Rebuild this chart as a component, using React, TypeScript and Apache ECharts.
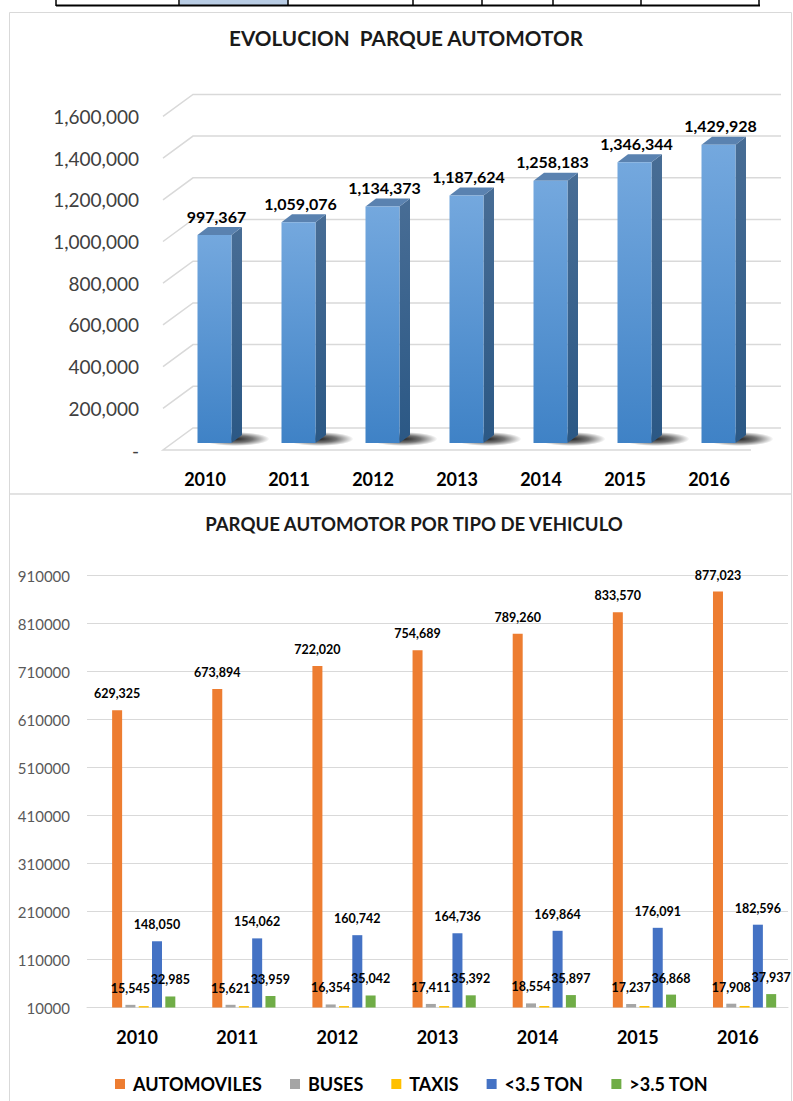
import React, { useEffect, useRef } from "react";
import * as echarts from "echarts";

const years = ["2010", "2011", "2012", "2013", "2014", "2015", "2016"];
const totalParque = [997367, 1059076, 1134373, 1187624, 1258183, 1346344, 1429928];
const topTicks = [0, 200000, 400000, 600000, 800000, 1000000, 1200000, 1400000, 1600000];

const automoviles = [629325, 673894, 722020, 754689, 789260, 833570, 877023];
const buses = [15545, 15621, 16354, 17411, 18554, 17237, 17908];
const taxis = [12900, 12900, 13000, 13000, 13100, 13100, 13200];
const menos35 = [148050, 154062, 160742, 164736, 169864, 176091, 182596];
const mas35 = [32985, 33959, 35042, 35392, 35897, 36868, 37937];
const seriesNames = ["AUTOMOVILES", "BUSES", "TAXIS", "<3.5 TON", ">3.5 TON"];
const seriesColors = ["#ED7D31", "#A5A5A5", "#FFC000", "#4472C4", "#70AD47"];
const seriesData = [automoviles, buses, taxis, menos35, mas35];
const showLabels = [true, true, false, true, true];

const fmt = (v: number) => Number(v).toLocaleString("en-US");

// 3D depth of the top chart's walls and bars
const WALL_DX = 30;
const WALL_DY = -22;
const BAR_OFF_X = 9.5;
const BAR_OFF_Y = -7;
const BAR_DX = 10.5;
const BAR_DY = -8;
const BAR_HALF = 17;

export default function App() {
  const ref = useRef<HTMLDivElement>(null);

  useEffect(() => {
    if (!ref.current) return;
    const chart = echarts.init(ref.current, null, { renderer: "svg" });

    const frontGrad = new echarts.graphic.LinearGradient(0, 0, 0, 1, [
      { offset: 0, color: "#74a8de" },
      { offset: 1, color: "#3f82c6" },
    ]);
    const sideGrad = new echarts.graphic.LinearGradient(0, 0, 0, 1, [
      { offset: 0, color: "#486d95" },
      { offset: 1, color: "#2b5885" },
    ]);
    const shadowGrad = new echarts.graphic.RadialGradient(0.5, 0.5, 0.5, [
      { offset: 0, color: "rgba(0,0,0,0.85)" },
      { offset: 0.5, color: "rgba(0,0,0,0.55)" },
      { offset: 1, color: "rgba(0,0,0,0)" },
    ]);

    const bottomSeries: any[] = [
      {
        type: "bar",
        name: "_",
        xAxisIndex: 1,
        yAxisIndex: 1,
        data: [],
        barWidth: 10,
        barGap: "33%",
      },
    ];
    seriesNames.forEach((name, k) => {
      bottomSeries.push({
        type: "bar",
        name,
        xAxisIndex: 1,
        yAxisIndex: 1,
        data: seriesData[k],
        barWidth: 10,
        barGap: "33%",
        itemStyle: { color: seriesColors[k] },
        label: {
          show: showLabels[k],
          position: "top",
          distance: 10,
          fontFamily: "Lato",
          fontWeight: "bold",
          fontSize: 12.5,
          color: "#000",
          formatter: (p: any) => fmt(p.value),
        },
      });
    });

    const option: any = {
      animation: false,
      backgroundColor: "#fff",
      graphic: [
        // fragment of table above
        { type: "rect", shape: { x: 180, y: 0, width: 108, height: 5 }, style: { fill: "#b8cce4" } },
        { type: "line", shape: { x1: 56, y1: 5.5, x2: 760, y2: 5.5 }, style: { stroke: "#000", lineWidth: 2 } },
        ...[56, 179, 288, 413, 482, 553, 641, 759].map((x) => ({
          type: "line",
          shape: { x1: x, y1: 0, x2: x, y2: 6 },
          style: { stroke: "#000", lineWidth: 1.5 },
        })),
        // frames
        { type: "rect", shape: { x: 9.5, y: 12.5, width: 782, height: 481.5 }, style: { fill: "none", stroke: "#d9d9d9", lineWidth: 1 } },
        { type: "rect", shape: { x: 9.5, y: 494, width: 782, height: 620 }, style: { fill: "none", stroke: "#d9d9d9", lineWidth: 1 } },
        {
          type: "text",
          x: 406,
          y: 38,
          style: {
            text: "EVOLUCION  PARQUE AUTOMOTOR",
            align: "center",
            verticalAlign: "middle",
            fontFamily: "Lato",
            fontWeight: "bold",
            fontSize: 20.7,
            fill: "#1a1a1a",
          },
        },
        {
          type: "text",
          x: 414,
          y: 524,
          style: {
            text: "PARQUE AUTOMOTOR POR TIPO DE VEHICULO",
            align: "center",
            verticalAlign: "middle",
            fontFamily: "Lato",
            fontWeight: "bold",
            fontSize: 18.6,
            fill: "#1a1a1a",
          },
        },
      ],
      legend: {
        data: seriesNames,
        left: 110,
        top: 1070,
        icon: "rect",
        itemWidth: 10,
        itemHeight: 10,
        itemGap: 28,
        textStyle: { fontFamily: "Lato", fontWeight: "bold", fontSize: 18, color: "#000", padding: [0, 0, 0, 3] },
      },
      grid: [
        { left: 163, top: 116.4, width: 588, height: 333.6 },
        { left: 87, top: 575.7, width: 701, height: 431.8 },
      ],
      xAxis: [
        {
          gridIndex: 0,
          type: "category",
          data: years,
          axisLine: { show: false },
          axisTick: { show: false },
          axisLabel: { margin: 20, fontFamily: "Lato", fontWeight: "bold", fontSize: 18, color: "#000" },
        },
        {
          gridIndex: 1,
          type: "category",
          data: years,
          axisLine: { lineStyle: { color: "#d9d9d9", width: 1 } },
          axisTick: { show: false },
          axisLabel: { margin: 20, fontFamily: "Lato", fontWeight: "bold", fontSize: 18, color: "#000" },
        },
      ],
      yAxis: [
        {
          gridIndex: 0,
          type: "value",
          min: 0,
          max: 1600000,
          interval: 200000,
          axisLine: { show: false },
          axisTick: { show: false },
          splitLine: { show: false },
          axisLabel: {
            margin: 24,
            fontFamily: "Lato",
            fontSize: 19,
            color: "#404040",
            formatter: (v: number) => (v === 0 ? "-" : fmt(v)),
          },
        },
        {
          gridIndex: 1,
          type: "value",
          min: 10000,
          max: 910000,
          interval: 100000,
          axisLine: { show: false },
          axisTick: { show: false },
          splitLine: { lineStyle: { color: "#d9d9d9", width: 1 } },
          axisLabel: {
            margin: 17,
            fontFamily: "Lato",
            fontSize: 15,
            color: "#595959",
            formatter: (v: number) => String(v),
          },
        },
      ],
      series: [
        {
          type: "custom",
          name: "walls",
          xAxisIndex: 0,
          yAxisIndex: 0,
          silent: true,
          z: 1,
          data: topTicks.map((v) => [0, v]),
          renderItem: (params: any, api: any) => {
            const cs = params.coordSys;
            const v = api.value(1);
            const y = api.coord([0, v])[1];
            const x0 = cs.x;
            const x1 = cs.x + cs.width;
            if (v === 0) {
              return {
                type: "polyline",
                shape: {
                  points: [
                    [x1, y],
                    [x0, y],
                    [x0 + WALL_DX, y + WALL_DY],
                    [x1 + WALL_DX, y + WALL_DY],
                  ],
                },
                style: { stroke: "#d9d9d9", fill: null, lineWidth: 1.5 },
              };
            }
            return {
              type: "polyline",
              shape: {
                points: [
                  [x0, y],
                  [x0 + WALL_DX, y + WALL_DY],
                  [x1 + WALL_DX, y + WALL_DY],
                ],
              },
              style: { stroke: "#d9d9d9", fill: null, lineWidth: 1.5 },
            };
          },
        },
        {
          type: "custom",
          name: "total",
          xAxisIndex: 0,
          yAxisIndex: 0,
          z: 2,
          data: years.map((y, i) => [i, totalParque[i]]),
          renderItem: (params: any, api: any) => {
            const idx = api.value(0);
            const v = api.value(1);
            const top = api.coord([idx, v]);
            const base = api.coord([idx, 0]);
            const cx = top[0] + BAR_OFF_X;
            const ty = top[1] + BAR_OFF_Y;
            const by = base[1] + BAR_OFF_Y;
            const xl = cx - BAR_HALF;
            const xr = cx + BAR_HALF;
            return {
              type: "group",
              children: [
                {
                  type: "ellipse",
                  shape: { cx: xr + 4, cy: by - 4, rx: 34, ry: 7 },
                  style: { fill: shadowGrad },
                },
                {
                  type: "polygon",
                  shape: { points: [[xr, ty], [xr + BAR_DX, ty + BAR_DY], [xr + BAR_DX, by + BAR_DY], [xr, by]] },
                  style: { fill: sideGrad },
                },
                {
                  type: "polygon",
                  shape: { points: [[xl, ty], [xl + BAR_DX, ty + BAR_DY], [xr + BAR_DX, ty + BAR_DY], [xr, ty]] },
                  style: { fill: "#5a82b0" },
                },
                {
                  type: "rect",
                  shape: { x: xl, y: ty, width: 2 * BAR_HALF, height: by - ty },
                  style: { fill: frontGrad },
                },
                {
                  type: "text",
                  x: cx + 2,
                  y: ty - 19,
                  style: {
                    text: fmt(v),
                    align: "center",
                    verticalAlign: "middle",
                    fontFamily: "Lato",
                    fontWeight: "bold",
                    fontSize: 16,
                    fill: "#000",
                  },
                },
              ],
            };
          },
        },
        ...bottomSeries,
      ],
    };

    chart.setOption(option);
    return () => chart.dispose();
  }, []);

  return (
    <div
      ref={ref}
      style={{ position: "absolute", left: 0, top: 0, width: 793, height: 1101 }}
    />
  );
}
